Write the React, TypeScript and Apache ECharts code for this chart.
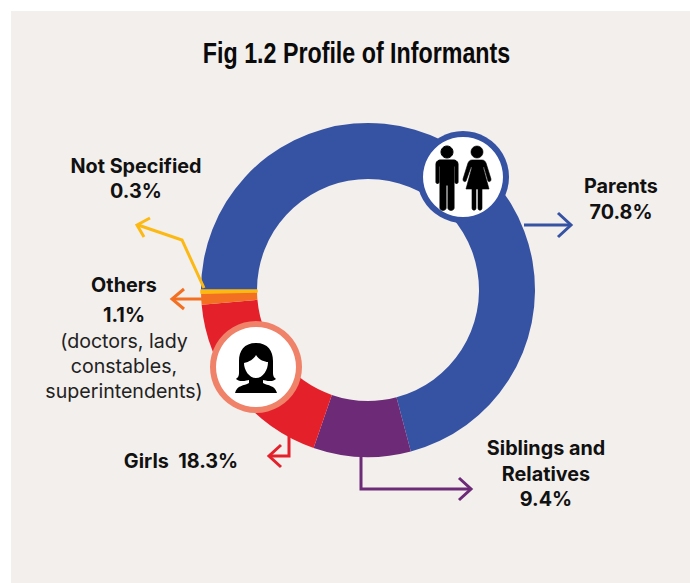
import React, { useEffect, useRef } from "react";
import * as echarts from "echarts";

const categories = ["Parents", "Siblings and Relatives", "Girls", "Others", "Not Specified"];
const values = [70.8, 9.4, 18.3, 1.1, 0.3];
const colors = ["#3652A3", "#6C2A77", "#E4212B", "#F36F21", "#FDB913"];
const BG = "#F3EFEC";
const FONT = "Inter, 'Noto Sans', sans-serif";
const CX = 368, CY = 290;

function person() {
  echarts.graphic.registerShape("man", echarts.graphic.extendPath(
    "M8 0a6 6 0 1 1-.01 0ZM1 14C0 14 -3 15 -3 18V36C-3 38 0 38 0 36V20H1V62C1 65 7 65 7 62V39H9V62C9 65 15 65 15 62V20H16V36C16 38 19 38 19 36V18C19 15 16 14 15 14Z", {}));
  echarts.graphic.registerShape("woman", echarts.graphic.extendPath(
    "M8 0a6 6 0 1 1-.01 0ZM3 14C1 14 0 15 -1 17L-6 33C-6 36 -4 36 -3 35L2 21H3L-3 43H3V62C3 65 7 65 7 62V43H9V62C9 65 13 65 13 62V43H20L14 21H15L19 35C20 36 22 36 22 33L17 17C16 15 15 14 13 14Z", {}));
  echarts.graphic.registerShape("girl", echarts.graphic.extendPath(
    "M21 0C9 0 4 8 4 18V30C4 34 2 35 1 36C6 40 12 37 14 37L14 40C9 43 2 42 0 50V50H42V50C40 42 33 43 28 40L28 37C30 37 36 40 41 36C40 35 38 34 38 30V18C38 8 33 0 21 0ZM21 12C24 17 30 19 33 19C33 27 28 35 21 35C14 35 9 27 9 20C14 19 19 16 21 12Z", {}));
}

const text = (x: number, y: number, t: string, weight: number | string = 700, size = 19.8, color = "#111") => ({
  type: "text", x, y, z: 20,
  style: { text: t, fill: color, font: `${weight} ${size}px ${FONT}`, textAlign: "center", textVerticalAlign: "middle" },
});
const line = (pts: number[][], color: string) => ({
  type: "polyline", z: 3,
  shape: { points: pts },
  style: { stroke: color, lineWidth: 3, fill: "none" },
});

export default function App() {
  const ref = useRef<HTMLDivElement>(null);
  useEffect(() => {
    person();
    const chart = echarts.init(ref.current!, null, { renderer: "svg" });
    chart.setOption({
      animation: false,
      backgroundColor: "#fff",
      series: [{
        type: "pie", center: [CX, CY], radius: [111, 167], startAngle: 180, clockwise: true,
        label: { show: false }, labelLine: { show: false }, silent: true, z: 2,
        data: categories.map((name, i) => ({
          name, value: values[i],
          itemStyle: i === 4
            ? { color: colors[i], borderColor: colors[i], borderWidth: 1.5 }
            : { color: colors[i] },
        })),
      }],
      graphic: { elements: [
        { type: "rect", shape: { x: 11, y: 11, width: 679, height: 572 }, style: { fill: BG }, z: -10, silent: true },
        {
          type: "text", x: 356.5, y: 53, scaleX: 0.775, z: 20,
          style: { text: "Fig 1.2 Profile of Informants", fill: "#0a0a0a", font: "700 30px 'Liberation Sans', Arial, sans-serif", textAlign: "center", textVerticalAlign: "middle" },
        },
        line([[524, 225], [571, 225]], colors[0]), line([[558, 213], [571, 225], [558, 237]], colors[0]),
        line([[361, 455], [361, 489], [471, 489]], colors[1]), line([[459, 478], [471, 489], [459, 500]], colors[1]),
        line([[289, 433], [289, 456], [270, 456]], colors[2]), line([[281, 445], [269, 456], [281, 467]], colors[2]),
        line([[203, 299], [173, 299]], colors[3]), line([[184, 289], [172, 299], [184, 309]], colors[3]),
        line([[204, 288], [182, 240], [138, 225]], colors[4]), line([[150, 218], [137, 225], [144, 237]], colors[4]),
        { type: "circle", shape: { cx: 463, cy: 177, r: 46 }, style: { fill: colors[0] }, z: 10 },
        { type: "circle", shape: { cx: 463, cy: 177, r: 40 }, style: { fill: "#fff" }, z: 11 },
        { type: "man", x: 439, y: 146, style: { fill: "#000", stroke: "#000", lineWidth: 1 }, z: 12 },
        { type: "woman", x: 469, y: 146, style: { fill: "#000", stroke: "#000", lineWidth: 0.6 }, z: 12 },
        { type: "circle", shape: { cx: 256, cy: 367, r: 46 }, style: { fill: "#EF8268" }, z: 10 },
        { type: "circle", shape: { cx: 256, cy: 367, r: 40 }, style: { fill: "#fff" }, z: 11 },
        { type: "girl", x: 235, y: 343, style: { fill: "#000" }, z: 12 },
        text(621, 186, categories[0]), text(621, 212, `${values[0]}%`),
        text(546, 448, "Siblings and"), text(546, 474, "Relatives"), text(546, 499, `${values[1]}%`),
        text(181, 461, `${categories[2]}\u00A0\u00A0${values[2]}%`),
        text(124, 285, categories[3]), text(124, 315, `${values[3]}%`),
        text(124, 341, "(doctors, lady", 400, 19.6, "#222"), text(124, 366, "constables,", 400, 19.6, "#222"), text(124, 391, "superintendents)", 400, 19.6, "#222"),
        text(136, 166, categories[4]), text(136, 191, `${values[4]}%`),
      ] },
    });
    return () => chart.dispose();
  }, []);
  return <div ref={ref} style={{ position: "absolute", left: 0, top: 0, width: 690, height: 583 }} />;
}
